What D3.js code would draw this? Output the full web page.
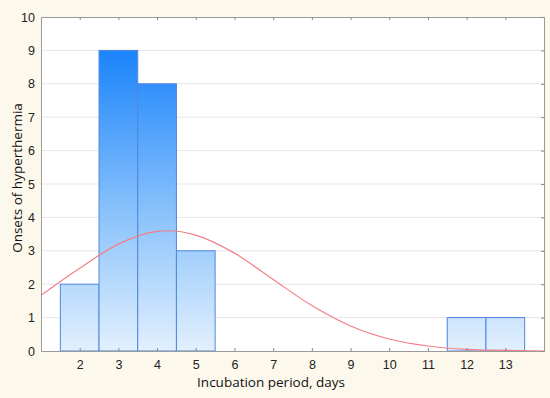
<!DOCTYPE html>
<html>
<head>
<meta charset="utf-8">
<script src="https://cdn.jsdelivr.net/npm/d3@7"></script>
<style>
  body { margin: 0; background: #fdf8ec; }
  svg { display: block; }
  .tick text { font-family: "Liberation Sans Narrow", "Liberation Sans", Arial, sans-serif; font-size: 12.5px; fill: #222; }
  .title { font-family: "Open Sans", "Noto Sans", sans-serif; font-size: 13.5px; fill: #111; }
</style>
</head>
<body>
<div id="chart"></div>
<script>
// histogram bins (lower edge, upper edge, count)
const binStart = [1.5, 2.5, 3.5, 4.5, 11.5, 12.5];
const binEnd   = [2.5, 3.5, 4.5, 5.5, 12.5, 13.5];
const counts   = [2, 9, 8, 3, 1, 1];

// fitted curve
const curveX = [1, 2, 3, 4, 4.3, 5, 6, 7, 8, 9, 10, 11, 12, 13, 14];
const curveY = [1.67, 2.48, 3.2, 3.58, 3.6, 3.47, 2.93, 2.14, 1.36, 0.75, 0.36, 0.15, 0.05, 0.02, 0.0];

const xTicks = [2, 3, 4, 5, 6, 7, 8, 9, 10, 11, 12, 13];
const yTicks = [0, 1, 2, 3, 4, 5, 6, 7, 8, 9, 10];

const width = 550, height = 398;
const margin = { left: 41, top: 17, right: 6, bottom: 47 };
const w = width - margin.left - margin.right;
const h = height - margin.top - margin.bottom;

const svg = d3.select("#chart").append("svg")
    .attr("width", width)
    .attr("height", height);

// cream frame
svg.append("rect")
    .attr("width", width).attr("height", height)
    .attr("fill", "#fdf8ec");

const g = svg.append("g")
    .attr("transform", "translate(" + margin.left + "," + margin.top + ")");

const xScale = d3.scaleLinear().domain([1, 14]).range([0, w]);
const yScale = d3.scaleLinear().domain([0, 10]).range([h, 0]);

g.append("rect").attr("width", w).attr("height", h).attr("fill", "#fff");

// gradient spanning the whole plot height
const grad = svg.append("defs").append("linearGradient")
    .attr("id", "barGrad")
    .attr("gradientUnits", "userSpaceOnUse")
    .attr("x1", 0).attr("x2", 0)
    .attr("y1", yScale(9)).attr("y2", yScale(0));
grad.append("stop").attr("offset", "0%").attr("stop-color", "#1b84fb");
grad.append("stop").attr("offset", "55%").attr("stop-color", "#8cc3fb");
grad.append("stop").attr("offset", "100%").attr("stop-color", "#e2f0fe");

// gridlines
g.append("g").selectAll("line")
    .data(yTicks.filter(d => d > 0 && d < 10))
    .join("line")
    .attr("x1", 0).attr("x2", w)
    .attr("y1", d => yScale(d)).attr("y2", d => yScale(d))
    .attr("stroke", "#e6e6e6").attr("stroke-width", 1);

// bars
g.append("g").selectAll("rect")
    .data(counts)
    .join("rect")
    .attr("x", (d, i) => xScale(binStart[i]))
    .attr("width", (d, i) => xScale(binEnd[i]) - xScale(binStart[i]))
    .attr("y", d => yScale(d))
    .attr("height", d => h - yScale(d))
    .attr("fill", "url(#barGrad)")
    .attr("stroke", "#4f86e0")
    .attr("stroke-width", 1);

// fitted curve
g.append("path")
    .datum(curveX.map((x, i) => ({ x: x, y: curveY[i] })))
    .attr("fill", "none")
    .attr("stroke", "#f27f86")
    .attr("stroke-width", 1.2)
    .attr("d", d3.line()
        .curve(d3.curveMonotoneX)
        .x(d => xScale(d.x))
        .y(d => yScale(d.y)));

// axes (ticks point inward)
const xAxis = d3.axisBottom(xScale).tickValues(xTicks).tickSize(-3).tickPadding(9);
const xTop = d3.axisTop(xScale).tickValues(xTicks).tickSize(-3).tickFormat("");
const yAxis = d3.axisLeft(yScale).tickValues(yTicks).tickSize(0).tickPadding(6);
const yRight = d3.axisRight(yScale).tickValues(yTicks).tickSize(-3).tickFormat("");

g.append("g").attr("class", "x-axis").attr("transform", "translate(0," + h + ")").call(xAxis);
g.append("g").attr("class", "x-top").call(xTop);
g.append("g").attr("class", "y-axis").call(yAxis);
g.append("g").attr("class", "y-right").attr("transform", "translate(" + w + ",0)").call(yRight);

g.selectAll(".domain").attr("stroke", "#9a9a9a");
g.selectAll(".tick line").attr("stroke", "#888");

// axis titles
svg.append("text")
    .attr("class", "title")
    .attr("x", 271).attr("y", 387)
    .attr("text-anchor", "middle")
    .text("Incubation period, days");

svg.append("text")
    .attr("class", "title")
    .attr("transform", "translate(22,178) rotate(-90)")
    .attr("text-anchor", "middle")
    .text("Onsets of hyperthermia");
</script>
</body>
</html>
